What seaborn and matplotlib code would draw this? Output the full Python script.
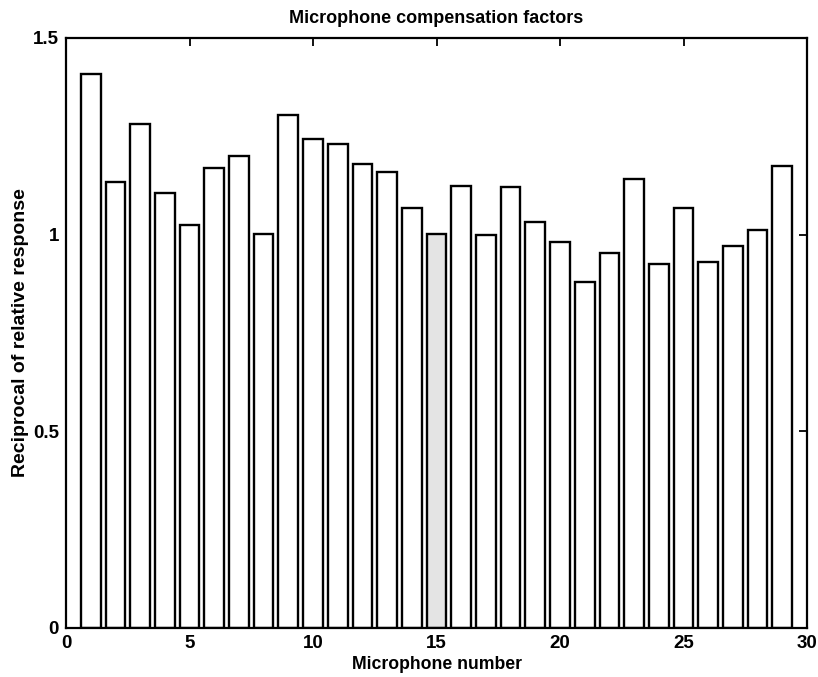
import matplotlib
matplotlib.use("Agg")
import matplotlib.pyplot as plt
import seaborn as sns
import numpy as np
import pandas as pd

mic_number = list(range(1, 30))
recip_response = [1.409, 1.134, 1.281, 1.107, 1.025, 1.170, 1.201, 1.001, 1.303, 1.242,
                  1.231, 1.179, 1.160, 1.069, 1.001, 1.125, 1.000, 1.121, 1.033, 0.981,
                  0.880, 0.953, 1.142, 0.926, 1.069, 0.931, 0.972, 1.011, 1.175]
highlight = 15
xticks = [0, 5, 10, 15, 20, 25, 30]
yticks = [0, 0.5, 1, 1.5]
ytick_labels = ["0", "0.5", "1", "1.5"]

sns.set_style("white")
plt.rcParams['font.family'] = ['Liberation Sans', 'DejaVu Sans']
plt.rcParams['text.color'] = 'black'
plt.rcParams['axes.labelcolor'] = 'black'

df = pd.DataFrame({"mic": mic_number, "val": recip_response})

fig = plt.figure(figsize=(8.18, 6.77), dpi=100)
ax = fig.add_axes([66/818, 1 - 628/677, (807-66)/818, (628-38)/677])

sns.barplot(data=df, x="mic", y="val", native_scale=True, width=0.8,
            color="white", edgecolor="black", linewidth=1.7, saturation=1,
            errorbar=None, ax=ax)
for p, m in zip(ax.patches, mic_number):
    p.set_facecolor("#e4e4e4" if m == highlight else "white")
    p.set_edgecolor("black")

ax.set_xlim(0, 30)
ax.set_ylim(0, 1.5)
ax.set_xticks(xticks)
ax.set_xticklabels([str(t) for t in xticks])
ax.set_yticks(yticks)
ax.set_yticklabels(ytick_labels)
ax.tick_params(direction="in", length=5.5, width=1.3, top=True, right=True,
               labelsize=13.5, pad=5, colors="black")
for lab in ax.get_xticklabels() + ax.get_yticklabels():
    lab.set_fontweight("bold")
for s in ax.spines.values():
    s.set_visible(True)
    s.set_color("black")
    s.set_linewidth(1.6)

ax.set_xlabel("Microphone number", fontsize=12.7, fontweight="bold", labelpad=3)
ax.set_ylabel("Reciprocal of relative response", fontsize=14, fontweight="bold", labelpad=3)
ax.set_title("Microphone compensation factors", fontsize=13, fontweight="bold", pad=11)

fig.savefig("out.png", dpi=100)
